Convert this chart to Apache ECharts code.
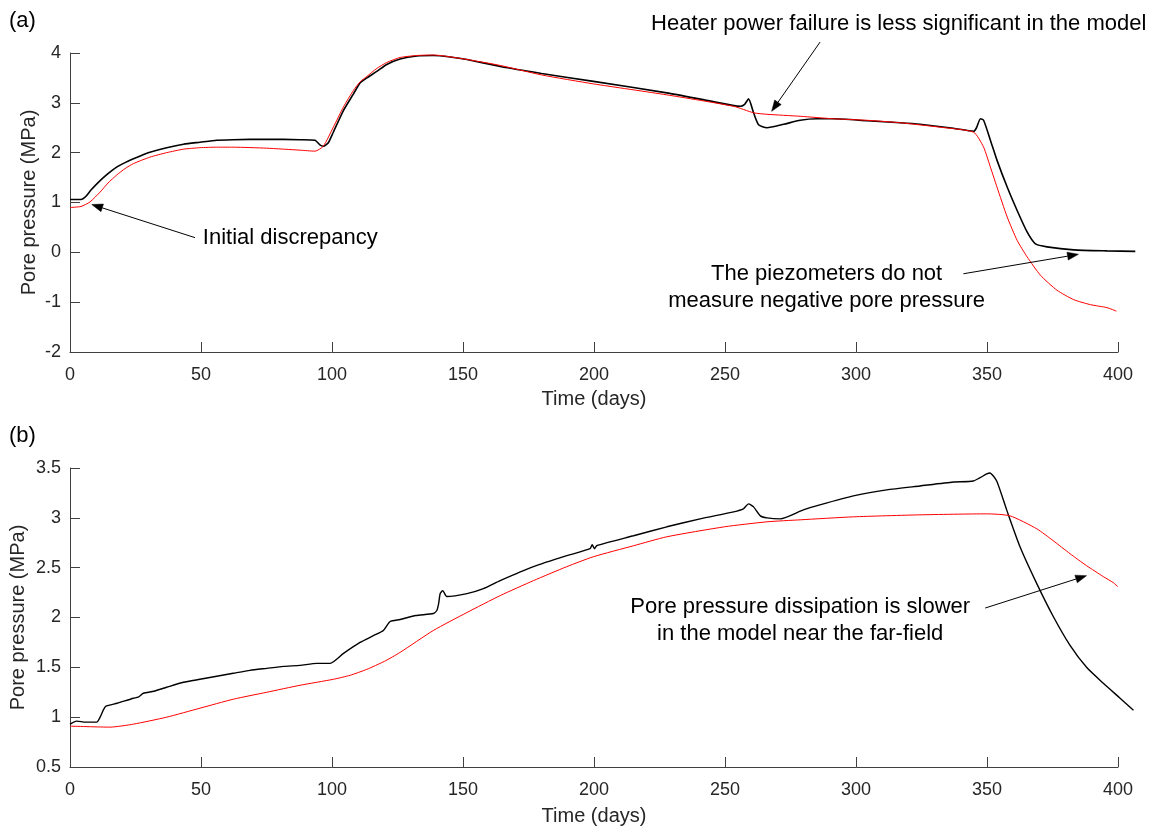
<!DOCTYPE html>
<html>
<head>
<meta charset="utf-8">
<script src="https://cdn.jsdelivr.net/npm/echarts@6/dist/echarts.min.js"></script>
<style>
  html, body { margin: 0; padding: 0; background: #ffffff; }
  #chart { width: 1153px; height: 829px; }
</style>
</head>
<body>
<div id="chart"></div>
<script>
// Time axis (days), shared by both panels; records run a little past the last tick
const timeMin = 0, timeMax = 400, timeStep = 50;
const timeDataMax = 408;

// Panel (a): pore pressure (MPa) vs time (days)
const yRangeA = { min: -2, max: 4, step: 1 };
const measuredA = [
  [0, 1.06], [4.2, 1.06], [6, 1.12], [8, 1.25], [11.5, 1.44], [14.5, 1.58], [17.8, 1.71],
  [21, 1.80], [24.2, 1.88], [27.5, 1.95], [30.5, 2.01], [36.9, 2.10], [43.3, 2.17],
  [49.6, 2.21], [56, 2.25], [62.3, 2.26], [75, 2.27], [87.8, 2.26], [93.5, 2.25],
  [95.5, 2.15], [96.7, 2.13], [98.6, 2.20], [100.5, 2.41], [104.4, 2.85], [108.2, 3.18],
  [110.7, 3.40], [113.3, 3.50], [117.1, 3.63], [120.9, 3.77], [126, 3.88], [132.4, 3.94],
  [138.7, 3.95], [145.1, 3.92], [151.5, 3.87], [164.2, 3.73], [180, 3.59], [199.8, 3.43],
  [227.8, 3.20], [245, 3.03], [255.8, 2.93], [257.5, 2.97], [259, 3.08], [260.9, 2.80],
  [262.8, 2.56], [266, 2.50], [272.4, 2.57], [278.7, 2.65], [285.1, 2.68], [291.4, 2.68],
  [304.2, 2.64], [316.9, 2.60], [324.4, 2.57], [337.2, 2.49], [344.9, 2.43], [346, 2.50],
  [347.5, 2.68], [348.7, 2.65], [351.3, 2.25], [353.8, 1.85], [357.7, 1.31], [361.5, 0.84],
  [365.3, 0.41], [368.5, 0.17], [372.9, 0.11], [383.1, 0.05], [395.8, 0.03], [406.6, 0.02]
];
const modelA = [
  [0, 0.90], [4.2, 0.92], [7.6, 1.01], [11.5, 1.21], [14.5, 1.39], [17.8, 1.55], [21, 1.68],
  [24.2, 1.78], [30.5, 1.91], [36.9, 2.00], [43.3, 2.07], [49.6, 2.10], [56, 2.11],
  [62.3, 2.11], [75, 2.09], [87.8, 2.05], [93.5, 2.03], [96.7, 2.13], [100.5, 2.51],
  [104.4, 2.92], [108.2, 3.25], [110.7, 3.42], [113.3, 3.53], [117.1, 3.69], [120.9, 3.81],
  [126, 3.91], [132.4, 3.95], [138.7, 3.96], [151.5, 3.87], [164.2, 3.75], [180, 3.56],
  [199.8, 3.38], [227.8, 3.16], [253.3, 2.93], [260.9, 2.80], [266, 2.77], [278.7, 2.73],
  [291.4, 2.68], [304.2, 2.65], [316.9, 2.60], [332.2, 2.51], [344.9, 2.41], [348.7, 2.11],
  [351.3, 1.71], [353.8, 1.31], [357.7, 0.71], [361.5, 0.24], [365.3, -0.09], [370.4, -0.46],
  [376.7, -0.76], [383.1, -0.95], [389.5, -1.05], [395.8, -1.11], [399.4, -1.18]
];

// Panel (b): pore pressure (MPa) vs time (days)
const yRangeB = { min: 0.5, max: 3.5, step: 0.5 };
const measuredB = [
  [0, 0.93], [2.5, 0.96], [6, 0.95], [10.2, 0.95], [11.5, 1.00], [12.7, 1.07], [13.7, 1.11],
  [18, 1.14], [24.2, 1.19], [26, 1.20], [28, 1.24], [32, 1.26], [36.9, 1.30], [43.3, 1.35],
  [49.6, 1.38], [56, 1.41], [62.3, 1.44], [68.7, 1.47], [75.1, 1.49], [81.5, 1.51],
  [87.8, 1.52], [94.2, 1.54], [99.3, 1.54], [104.4, 1.64], [110.7, 1.75], [116, 1.82],
  [119.6, 1.87], [122.2, 1.96], [126, 1.98], [132, 2.02], [138.7, 2.04], [140, 2.07],
  [140.7, 2.14], [141.3, 2.24], [142.3, 2.27], [143.8, 2.21], [151.5, 2.24], [157.8, 2.29],
  [164.2, 2.37], [176.9, 2.51], [189.6, 2.62], [198.5, 2.69], [199.3, 2.73], [200.2, 2.69],
  [201, 2.72], [215.1, 2.82], [227.8, 2.91], [240.5, 2.99], [253.3, 3.06], [257, 3.09],
  [259, 3.14], [260.9, 3.11], [263.5, 3.02], [266, 3.00], [271.1, 2.99], [279.9, 3.08],
  [286.2, 3.13], [299, 3.22], [311.7, 3.28], [324.4, 3.32], [337.2, 3.36], [344.8, 3.37],
  [349.9, 3.44], [351.1, 3.45], [353.7, 3.37], [357.5, 3.08], [362.6, 2.71], [369, 2.34],
  [375.3, 2.01], [381.7, 1.72], [388, 1.50], [394.4, 1.34], [400.8, 1.19], [405.9, 1.07]
];
const modelB = [
  [0, 0.91], [15.3, 0.90], [24.2, 0.93], [36.9, 1.00], [49.6, 1.09], [62.3, 1.18],
  [75.1, 1.25], [87.8, 1.32], [100.5, 1.38], [106.9, 1.42], [113.3, 1.48], [120, 1.56],
  [126, 1.65], [138.7, 1.87], [151.5, 2.05], [164.2, 2.22], [176.9, 2.37], [189.6, 2.51],
  [199.8, 2.61], [215.1, 2.72], [227.8, 2.81], [249.8, 2.91], [266, 2.96], [278.7, 2.98],
  [299, 3.01], [324.4, 3.03], [349.9, 3.04], [358.8, 3.02], [369, 2.89], [375.3, 2.77],
  [381.7, 2.64], [388, 2.52], [394.4, 2.41], [398.2, 2.35], [399.9, 2.31]
];

const FONT = '"Liberation Sans", Arial, Helvetica, sans-serif';
const AXIS_COLOR = '#404040';
const TEXT_COLOR = '#262626';

const PLOT_LEFT = 70, PLOT_W = 1048, PLOT_H = 299;
const TOP_A = 53, TOP_B = 468;
// The curves sit on a twin (hidden) grid with the same scale, extended to the last record
const DATA_W = PLOT_W * (timeDataMax - timeMin) / (timeMax - timeMin);

const chart = echarts.init(document.getElementById('chart'), null, { renderer: 'canvas' });

function xAxisFor(gridIndex, nameGap) {
  return {
    type: 'value', gridIndex, min: timeMin, max: timeMax, interval: timeStep,
    name: 'Time (days)', nameLocation: 'middle', nameGap, nameMoveOverlap: false,
    nameTextStyle: { fontSize: 20, color: TEXT_COLOR, fontFamily: FONT },
    axisLine: { show: true, onZero: false, lineStyle: { color: AXIS_COLOR, width: 1 } },
    axisTick: { show: true, inside: true, length: 10, lineStyle: { color: AXIS_COLOR, width: 1 } },
    axisLabel: { fontSize: 18, color: TEXT_COLOR, fontFamily: FONT, margin: 14,
                 showMinLabel: true, showMaxLabel: true },
    splitLine: { show: false }
  };
}
function yAxisFor(gridIndex, range, nameGap) {
  return {
    type: 'value', gridIndex, min: range.min, max: range.max, interval: range.step,
    name: 'Pore pressure (MPa)', nameLocation: 'middle', nameGap, nameMoveOverlap: false,
    nameTextStyle: { fontSize: 20, color: TEXT_COLOR, fontFamily: FONT },
    axisLine: { show: true, onZero: false, lineStyle: { color: AXIS_COLOR, width: 1 } },
    axisTick: { show: true, inside: true, length: 10, lineStyle: { color: AXIS_COLOR, width: 1 } },
    axisLabel: { fontSize: 18, color: TEXT_COLOR, fontFamily: FONT, margin: 9,
                 showMinLabel: true, showMaxLabel: true },
    splitLine: { show: false }
  };
}
function hiddenX(gridIndex) {
  return { type: 'value', gridIndex, min: timeMin, max: timeDataMax, show: false,
           axisLine: { onZero: false }, splitLine: { show: false } };
}
function hiddenY(gridIndex, range) {
  return { type: 'value', gridIndex, min: range.min, max: range.max, show: false,
           axisLine: { onZero: false }, splitLine: { show: false } };
}
function lineSeries(axisIndex, data, color, width) {
  return {
    type: 'line', xAxisIndex: axisIndex, yAxisIndex: axisIndex, data,
    showSymbol: false, symbol: 'none', smooth: 0.2, clip: false, silent: true,
    lineStyle: { color, width }
  };
}

chart.setOption({
  animation: false,
  backgroundColor: '#ffffff',
  textStyle: { fontFamily: FONT },
  grid: [
    { left: PLOT_LEFT, top: TOP_A, width: PLOT_W, height: PLOT_H },
    { left: PLOT_LEFT, top: TOP_B, width: PLOT_W, height: PLOT_H },
    { left: PLOT_LEFT, top: TOP_A, width: DATA_W, height: PLOT_H },
    { left: PLOT_LEFT, top: TOP_B, width: DATA_W, height: PLOT_H }
  ],
  xAxis: [xAxisFor(0, 37), xAxisFor(1, 39), hiddenX(2), hiddenX(3)],
  yAxis: [yAxisFor(0, yRangeA, 31), yAxisFor(1, yRangeB, 42), hiddenY(2, yRangeA), hiddenY(3, yRangeB)],
  series: [
    lineSeries(2, measuredA, '#000000', 1.6),
    lineSeries(2, modelA, '#ff0000', 1),
    lineSeries(3, measuredB, '#000000', 1.4),
    lineSeries(3, modelB, '#ff0000', 1)
  ]
});

// Annotations: arrows and notes placed in data coordinates of each panel
function px(grid, pt) { return chart.convertToPixel({ gridIndex: grid }, pt); }

function arrow(grid, tail, tip) {
  const a = px(grid, tail), b = px(grid, tip);
  const dx = b[0] - a[0], dy = b[1] - a[1];
  const len = Math.hypot(dx, dy);
  const ux = dx / len, uy = dy / len, nx = -uy, ny = ux;
  const L = 11, W = 4;
  const bx = b[0] - ux * L, by = b[1] - uy * L;
  return [
    { type: 'line', silent: true, z: 10,
      shape: { x1: a[0], y1: a[1], x2: bx, y2: by },
      style: { stroke: '#000000', lineWidth: 1 } },
    { type: 'polygon', silent: true, z: 10,
      shape: { points: [[b[0], b[1]], [bx + nx * W, by + ny * W], [bx - nx * W, by - ny * W]] },
      style: { fill: '#000000', stroke: '#000000', lineWidth: 0.5 } }
  ];
}

function note(grid, pt, text, align) {
  const p = px(grid, pt);
  return {
    type: 'text', silent: true, z: 10, x: p[0], y: p[1],
    style: {
      text, fill: '#000000', fontSize: 22, fontFamily: FONT, lineHeight: 27,
      align, textAlign: align, verticalAlign: 'middle', textVerticalAlign: 'middle'
    }
  };
}

function label(x, y, text) {
  return {
    type: 'text', silent: true, x, y,
    style: { text, fill: '#000000', fontSize: 22, fontFamily: FONT,
             align: 'left', textAlign: 'left', verticalAlign: 'middle', textVerticalAlign: 'middle' }
  };
}

const graphics = [
  label(9, 21, '(a)'),
  label(9, 436, '(b)'),
  note(0, [50.7, 0.28], 'Initial discrepancy', 'left'),
  note(0, [221.8, 4.575], 'Heater power failure is less significant in the model', 'left'),
  note(0, [288.8, -0.71], 'The piezometers do not\nmeasure negative pore pressure', 'center'),
  note(1, [278.7, 1.967], 'Pore pressure dissipation is slower\nin the model near the far-field', 'center'),
  ...arrow(0, [47.7, 0.295], [8.3, 0.96]),
  ...arrow(0, [286.3, 4.22], [267.8, 2.83]),
  ...arrow(0, [341, -0.43], [384.9, -0.04]),
  ...arrow(1, [349.3, 2.095], [388, 2.42])
];

chart.setOption({ graphic: graphics });
</script>
</body>
</html>
